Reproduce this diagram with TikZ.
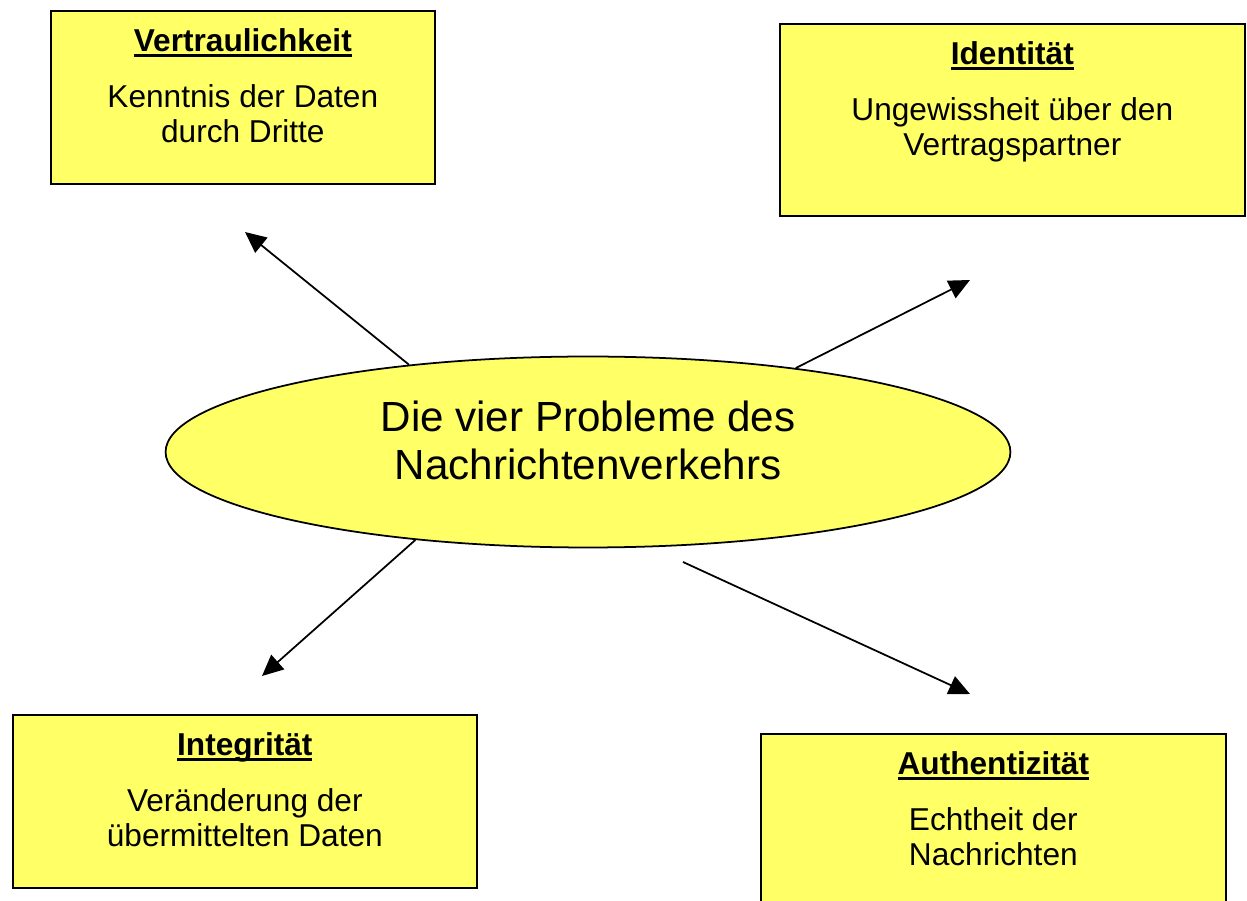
\documentclass[tikz,border=0pt]{standalone}
\usepackage{fontspec}
\setmainfont{Liberation Sans}
\usetikzlibrary{shapes.geometric,arrows.meta}
\definecolor{gelb}{HTML}{FFFF66}
\newsavebox\headbox
\newcommand{\ulhead}[1]{\sbox\headbox{\bfseries #1}\rlap{\rule[-3.2pt]{\wd\headbox}{1.7pt}}\usebox\headbox}
\begin{document}
\begin{tikzpicture}[x=0.02cm,y=-0.02cm,
  probbox/.style={draw,line width=1pt,fill=gelb,inner sep=0,anchor=north west},
  probtext/.style={align=center,anchor=base,inner sep=0,font=\fontsize{18}{20.4}\selectfont},
  hub/.style={ellipse,draw,line width=1pt,fill=gelb,inner sep=0,minimum width=16.9cm,minimum height=3.82cm},
  hubtext/.style={align=center,anchor=base,inner sep=0,font=\fontsize{24}{27.5}\selectfont},
  pfeil/.style={-{Triangle[length=12pt,width=11pt]},line width=1pt}]
	\useasboundingbox (0,0) rectangle (1247,901);
	% die vier Kaesten
	\node[probbox,minimum width=7.68cm,minimum height=3.46cm] (vert) at (50,10) {};
	\node[probbox,minimum width=9.3cm,minimum height=3.84cm] (ident) at (779,23) {};
	\node[probbox,minimum width=9.28cm,minimum height=3.46cm] (integ) at (12,714) {};
	\node[probbox,minimum width=9.3cm,minimum height=4cm] (auth) at (760,733) {};
	\node[probtext] (vertT) at ([yshift=-2.66cm]vert.north) {\ulhead{Vertraulichkeit}\\[11.3pt]Kenntnis der Daten\\durch Dritte};
	\node[probtext] (identT) at ([yshift=-2.66cm]ident.north) {\ulhead{Identität}\\[11.3pt]Ungewissheit über den\\Vertragspartner};
	\node[probtext] (integT) at ([yshift=-2.66cm]integ.north) {\ulhead{Integrität}\\[11.3pt]Veränderung der\\übermittelten Daten};
	\node[probtext] (authT) at ([yshift=-2.66cm]auth.north) {\ulhead{Authentizität}\\[11.3pt]Echtheit der\\Nachrichten};
	% Mitte
	\node[hub] (ell) at (588,452) {};
	\node[hubtext] (ellT) at ([yshift=-0.56cm]ell.center) {Die vier Probleme des\\Nachrichtenverkehrs};
	% Pfeile
	\coordinate (pV) at (245,232);
	\coordinate (pI) at (970,280);
	\coordinate (pG) at (262,676);
	\coordinate (pA) at (970,694);
	\coordinate (sA) at (683,562);
	\draw[pfeil] (ell.154) -- (pV);
	\draw[pfeil] (ell.22) -- (pI);
	\draw[pfeil] (ell.207) -- (pG);
	\draw[pfeil] (sA) -- (pA);
\end{tikzpicture}
\end{document}
